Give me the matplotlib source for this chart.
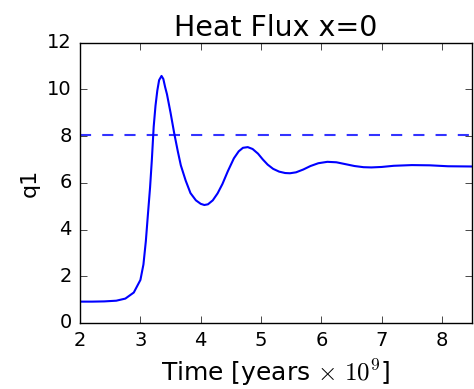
import matplotlib
matplotlib.use("Agg")
import matplotlib.pyplot as plt

# Datos
tiempo = [2.0, 2.2, 2.4, 2.6, 2.75, 2.89, 3.0, 3.05, 3.09, 3.12, 3.16, 3.19,
          3.22, 3.25, 3.28, 3.31, 3.35, 3.38, 3.41, 3.44, 3.50, 3.56, 3.62,
          3.67, 3.75, 3.83, 3.92, 4.0, 4.06, 4.12, 4.2, 4.28, 4.36, 4.45,
          4.55, 4.63, 4.7, 4.78, 4.86, 4.95, 5.03, 5.11, 5.2, 5.3, 5.4,
          5.48, 5.58, 5.7, 5.82, 5.95, 6.1, 6.25, 6.4, 6.55, 6.7, 6.83,
          7.0, 7.2, 7.5, 7.8, 8.1, 8.5]
q1 = [0.91, 0.91, 0.92, 0.95, 1.04, 1.30, 1.84, 2.5, 3.5, 4.5, 5.8, 7.0,
      8.4, 9.3, 9.95, 10.4, 10.58, 10.45, 10.1, 9.8, 9.0, 8.13, 7.35,
      6.75, 6.1, 5.56, 5.25, 5.1, 5.05, 5.08, 5.25, 5.55, 5.95, 6.5,
      7.05, 7.35, 7.5, 7.53, 7.45, 7.25, 7.0, 6.78, 6.6, 6.48, 6.42,
      6.41, 6.45, 6.57, 6.72, 6.84, 6.90, 6.88, 6.80, 6.72, 6.67, 6.66,
      6.68, 6.73, 6.76, 6.75, 6.71, 6.70]
q_ref = 8.05

plt.style.use("classic")
plt.rcParams["lines.scale_dashes"] = False

fig = plt.figure(figsize=(4.74, 3.89), dpi=100, facecolor="white")
ax = fig.add_axes([0.169, 0.170, 0.827, 0.720])

ax.plot(tiempo, q1, color="b", lw=1.5)
ax.axhline(q_ref, color="b", lw=1.5, ls="--", dashes=(8, 8), alpha=0.8)

ax.set_xlim(2, 8.5)
ax.set_ylim(0, 12)
ax.set_xticks(range(2, 9))
ax.set_yticks(range(0, 13, 2))
ax.tick_params(labelsize=14, length=5, pad=6)

ax.set_title("Heat Flux x=0", fontsize=20.5)
ax.set_xlabel(r"Time [years $\times\ 10^9$]", fontsize=18)
ax.set_ylabel("q1", fontsize=16)

fig.savefig("out.png", dpi=100, facecolor="white")
